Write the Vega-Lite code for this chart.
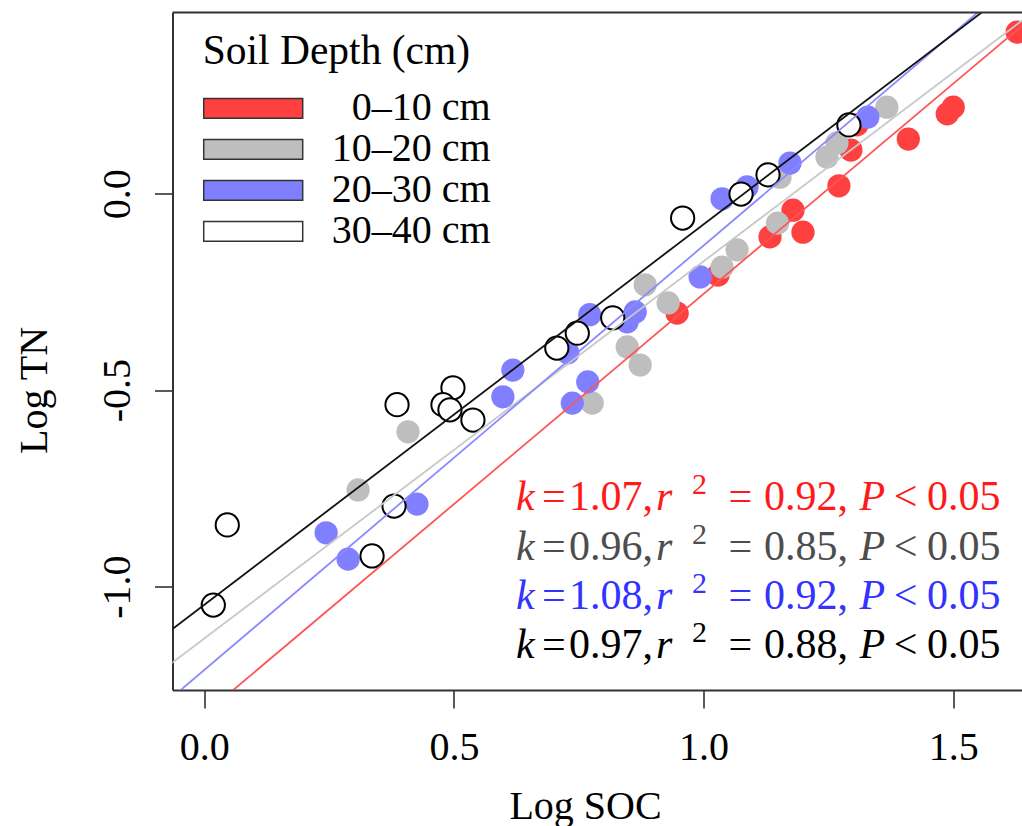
{
  "$schema": "https://vega.github.io/schema/vega-lite/v6.json",
  "width": 849.5,
  "height": 677.5,
  "autosize": {"type": "none"},
  "padding": {"left": 172.5, "top": 12.5, "right": 0, "bottom": 136},
  "background": "white",
  "config": {"view": {"stroke": null}, "font": "Liberation Serif"},
  "datasets": {
    "points": [
      {"depth": "0–10 cm", "soc": 1.628, "tn": 0.411},
      {"depth": "0–10 cm", "soc": 1.500, "tn": 0.220},
      {"depth": "0–10 cm", "soc": 1.488, "tn": 0.203},
      {"depth": "0–10 cm", "soc": 1.410, "tn": 0.139},
      {"depth": "0–10 cm", "soc": 1.307, "tn": 0.175},
      {"depth": "0–10 cm", "soc": 1.295, "tn": 0.111},
      {"depth": "0–10 cm", "soc": 1.271, "tn": 0.020},
      {"depth": "0–10 cm", "soc": 1.179, "tn": -0.042},
      {"depth": "0–10 cm", "soc": 1.199, "tn": -0.098},
      {"depth": "0–10 cm", "soc": 1.133, "tn": -0.110},
      {"depth": "0–10 cm", "soc": 1.029, "tn": -0.207},
      {"depth": "0–10 cm", "soc": 0.947, "tn": -0.304},
      {"depth": "10–20 cm", "soc": 1.367, "tn": 0.220},
      {"depth": "10–20 cm", "soc": 1.267, "tn": 0.129},
      {"depth": "10–20 cm", "soc": 1.247, "tn": 0.093},
      {"depth": "10–20 cm", "soc": 1.153, "tn": 0.042},
      {"depth": "10–20 cm", "soc": 1.148, "tn": -0.075},
      {"depth": "10–20 cm", "soc": 1.067, "tn": -0.143},
      {"depth": "10–20 cm", "soc": 1.037, "tn": -0.187},
      {"depth": "10–20 cm", "soc": 0.883, "tn": -0.232},
      {"depth": "10–20 cm", "soc": 0.929, "tn": -0.278},
      {"depth": "10–20 cm", "soc": 0.847, "tn": -0.390},
      {"depth": "10–20 cm", "soc": 0.873, "tn": -0.436},
      {"depth": "10–20 cm", "soc": 0.777, "tn": -0.533},
      {"depth": "10–20 cm", "soc": 0.408, "tn": -0.606},
      {"depth": "10–20 cm", "soc": 0.308, "tn": -0.754},
      {"depth": "20–30 cm", "soc": 1.329, "tn": 0.195},
      {"depth": "20–30 cm", "soc": 1.173, "tn": 0.078},
      {"depth": "20–30 cm", "soc": 1.087, "tn": 0.017},
      {"depth": "20–30 cm", "soc": 1.037, "tn": -0.013},
      {"depth": "20–30 cm", "soc": 0.993, "tn": -0.212},
      {"depth": "20–30 cm", "soc": 0.863, "tn": -0.301},
      {"depth": "20–30 cm", "soc": 0.847, "tn": -0.326},
      {"depth": "20–30 cm", "soc": 0.772, "tn": -0.308},
      {"depth": "20–30 cm", "soc": 0.728, "tn": -0.405},
      {"depth": "20–30 cm", "soc": 0.768, "tn": -0.479},
      {"depth": "20–30 cm", "soc": 0.737, "tn": -0.533},
      {"depth": "20–30 cm", "soc": 0.618, "tn": -0.449},
      {"depth": "20–30 cm", "soc": 0.598, "tn": -0.517},
      {"depth": "20–30 cm", "soc": 0.426, "tn": -0.790},
      {"depth": "20–30 cm", "soc": 0.244, "tn": -0.863},
      {"depth": "20–30 cm", "soc": 0.288, "tn": -0.930},
      {"depth": "30–40 cm", "soc": 1.291, "tn": 0.175},
      {"depth": "30–40 cm", "soc": 1.129, "tn": 0.048},
      {"depth": "30–40 cm", "soc": 1.075, "tn": -0.001},
      {"depth": "30–40 cm", "soc": 0.958, "tn": -0.062},
      {"depth": "30–40 cm", "soc": 0.818, "tn": -0.316},
      {"depth": "30–40 cm", "soc": 0.747, "tn": -0.355},
      {"depth": "30–40 cm", "soc": 0.706, "tn": -0.393},
      {"depth": "30–40 cm", "soc": 0.538, "tn": -0.576},
      {"depth": "30–40 cm", "soc": 0.498, "tn": -0.494},
      {"depth": "30–40 cm", "soc": 0.478, "tn": -0.537},
      {"depth": "30–40 cm", "soc": 0.492, "tn": -0.550},
      {"depth": "30–40 cm", "soc": 0.386, "tn": -0.537},
      {"depth": "30–40 cm", "soc": 0.380, "tn": -0.795},
      {"depth": "30–40 cm", "soc": 0.336, "tn": -0.922},
      {"depth": "30–40 cm", "soc": 0.046, "tn": -0.843},
      {"depth": "30–40 cm", "soc": 0.018, "tn": -1.047}
    ],
    "fits": [
      {"depth": "0–10 cm", "soc": -0.2, "tn": -1.539},
      {"depth": "0–10 cm", "soc": 1.8, "tn": 0.601},
      {"depth": "10–20 cm", "soc": -0.2, "tn": -1.324},
      {"depth": "10–20 cm", "soc": 1.8, "tn": 0.596},
      {"depth": "20–30 cm", "soc": -0.2, "tn": -1.428},
      {"depth": "20–30 cm", "soc": 1.8, "tn": 0.732},
      {"depth": "30–40 cm", "soc": -0.2, "tn": -1.2396},
      {"depth": "30–40 cm", "soc": 1.8, "tn": 0.6964}
    ],
    "eqs": [
      {"depth": "0–10 cm", "ex": 0.6243, "ey": -0.805, "kv": "1.07,", "r2v": "0.92,"},
      {"depth": "10–20 cm", "ex": 0.6243, "ey": -0.932, "kv": "0.96,", "r2v": "0.85,"},
      {"depth": "20–30 cm", "ex": 0.6243, "ey": -1.057, "kv": "1.08,", "r2v": "0.92,"},
      {"depth": "30–40 cm", "ex": 0.6243, "ey": -1.181, "kv": "0.97,", "r2v": "0.88,"}
    ]
  },
  "layer": [
    {
      "data": {"name": "points"},
      "mark": {"type": "point", "shape": "circle", "filled": true, "size": 540, "opacity": 1, "strokeWidth": 2},
      "encoding": {
        "x": {
          "field": "soc", "type": "quantitative",
          "scale": {"domain": [-0.0637, 1.6377], "nice": false, "zero": false},
          "axis": {
            "orient": "bottom", "values": [0, 0.5, 1, 1.5], "format": ".1f", "grid": false,
            "domainColor": "#333", "domainWidth": 2, "ticks": true, "tickColor": "#333", "tickWidth": 1.6, "tickSize": 18,
            "labelFont": "Liberation Serif", "labelFontSize": 40, "labelColor": "black", "labelPadding": 19,
            "labelFlush": false, "labelOverlap": false,
            "title": "Log SOC", "titleFont": "Liberation Serif", "titleFontSize": 40, "titleFontWeight": "normal",
            "titleColor": "black", "titleX": 412.5, "titleY": 128, "titleAlign": "center", "titleBaseline": "alphabetic"
          }
        },
        "y": {
          "field": "tn", "type": "quantitative",
          "scale": {"domain": [-1.263, 0.461], "nice": false, "zero": false},
          "axis": {
            "orient": "left", "values": [-1, -0.5, 0], "grid": false,
            "labelExpr": "(datum.value < 0 ? '-' : '') + format(abs(datum.value), '.1f')",
            "domainColor": "#333", "domainWidth": 2, "ticks": true, "tickColor": "#333", "tickWidth": 1.6, "tickSize": 18,
            "labelFont": "Liberation Serif", "labelFontSize": 40, "labelColor": "black", "labelPadding": 25.5,
            "labelAngle": -90, "labelAlign": "center", "labelBaseline": "alphabetic",
            "labelFlush": false, "labelOverlap": false,
            "title": "Log TN", "titleFont": "Liberation Serif", "titleFontSize": 40, "titleFontWeight": "normal",
            "titleColor": "black", "titleAngle": -90, "titleX": -126.5, "titleY": 377.5, "titleAlign": "center", "titleBaseline": "alphabetic"
          }
        },
        "fill": {
          "field": "depth", "type": "nominal",
          "scale": {"domain": ["0–10 cm", "10–20 cm", "20–30 cm", "30–40 cm"], "range": ["#ff4040", "#bebebe", "#7f7fff", "#ffffff"]},
          "legend": {
            "orient": "none", "legendX": 30.2, "legendY": 18, "direction": "vertical",
            "title": "Soil Depth (cm)", "titleFont": "Liberation Serif", "titleFontSize": 41.5, "titleFontWeight": "normal",
            "titleColor": "black", "titlePadding": 18.5, "titleLimit": 0,
            "labelFont": "Liberation Serif", "labelFontSize": 40, "labelColor": "black", "labelOffset": 187, "labelLimit": 0,
            "labelAlign": "right",
            "symbolType": "M-1,-0.2H1V0.2H-1Z", "symbolSize": 9801, "symbolStrokeColor": "#333", "symbolStrokeWidth": 1.5,
            "symbolOpacity": 1, "rowPadding": 0, "clipHeight": 35.8, "padding": 0
          }
        },
        "stroke": {
          "field": "depth", "type": "nominal",
          "scale": {"domain": ["0–10 cm", "10–20 cm", "20–30 cm", "30–40 cm"], "range": ["transparent", "transparent", "transparent", "#000000"]},
          "legend": null
        }
      }
    },
    {
      "data": {"name": "fits"},
      "mark": {"type": "line", "strokeWidth": 1.8, "clip": true},
      "encoding": {
        "x": {"field": "soc", "type": "quantitative"},
        "y": {"field": "tn", "type": "quantitative"},
        "color": {
          "field": "depth", "type": "nominal",
          "scale": {"domain": ["0–10 cm", "10–20 cm", "20–30 cm", "30–40 cm"], "range": ["#ff5555", "#c8c8c8", "#8a8aff", "#111111"]},
          "legend": null
        },
        "detail": {"field": "depth"}
      }
    },
    {
      "data": {"values": [{"edge": "top"}]},
      "mark": {"type": "rule", "color": "#333", "strokeWidth": 2},
      "encoding": {"y": {"datum": 0.461, "type": "quantitative"}}
    },
    {"data": {"name": "eqs"}, "mark": {"type": "text", "font": "Liberation Serif", "fontSize": 42, "fontStyle": "italic", "align": "left", "baseline": "alphabetic", "dx": 0}, "encoding": {"x": {"field": "ex", "type": "quantitative"}, "y": {"field": "ey", "type": "quantitative"}, "fill": {"field": "depth", "type": "nominal", "scale": {"domain": ["0–10 cm", "10–20 cm", "20–30 cm", "30–40 cm"], "range": ["#ff1a1a", "#4d4d4d", "#3333ff", "#000000"]}, "legend": null}, "text": {"value": "k"}}},
    {"data": {"name": "eqs"}, "mark": {"type": "text", "font": "Liberation Serif", "fontSize": 42, "align": "left", "baseline": "alphabetic", "dx": 26}, "encoding": {"x": {"field": "ex", "type": "quantitative"}, "y": {"field": "ey", "type": "quantitative"}, "fill": {"field": "depth", "type": "nominal", "scale": {"domain": ["0–10 cm", "10–20 cm", "20–30 cm", "30–40 cm"], "range": ["#ff1a1a", "#4d4d4d", "#3333ff", "#000000"]}, "legend": null}, "text": {"value": "="}}},
    {"data": {"name": "eqs"}, "mark": {"type": "text", "font": "Liberation Serif", "fontSize": 42, "align": "left", "baseline": "alphabetic", "dx": 53}, "encoding": {"x": {"field": "ex", "type": "quantitative"}, "y": {"field": "ey", "type": "quantitative"}, "fill": {"field": "depth", "type": "nominal", "scale": {"domain": ["0–10 cm", "10–20 cm", "20–30 cm", "30–40 cm"], "range": ["#ff1a1a", "#4d4d4d", "#3333ff", "#000000"]}, "legend": null}, "text": {"field": "kv"}}},
    {"data": {"name": "eqs"}, "mark": {"type": "text", "font": "Liberation Serif", "fontSize": 42, "fontStyle": "italic", "align": "left", "baseline": "alphabetic", "dx": 140}, "encoding": {"x": {"field": "ex", "type": "quantitative"}, "y": {"field": "ey", "type": "quantitative"}, "fill": {"field": "depth", "type": "nominal", "scale": {"domain": ["0–10 cm", "10–20 cm", "20–30 cm", "30–40 cm"], "range": ["#ff1a1a", "#4d4d4d", "#3333ff", "#000000"]}, "legend": null}, "text": {"value": "r"}}},
    {"data": {"name": "eqs"}, "mark": {"type": "text", "font": "Liberation Serif", "fontSize": 30, "align": "left", "baseline": "alphabetic", "dx": 176, "dy": -16}, "encoding": {"x": {"field": "ex", "type": "quantitative"}, "y": {"field": "ey", "type": "quantitative"}, "fill": {"field": "depth", "type": "nominal", "scale": {"domain": ["0–10 cm", "10–20 cm", "20–30 cm", "30–40 cm"], "range": ["#ff1a1a", "#4d4d4d", "#3333ff", "#000000"]}, "legend": null}, "text": {"value": "2"}}},
    {"data": {"name": "eqs"}, "mark": {"type": "text", "font": "Liberation Serif", "fontSize": 42, "align": "left", "baseline": "alphabetic", "dx": 212.6}, "encoding": {"x": {"field": "ex", "type": "quantitative"}, "y": {"field": "ey", "type": "quantitative"}, "fill": {"field": "depth", "type": "nominal", "scale": {"domain": ["0–10 cm", "10–20 cm", "20–30 cm", "30–40 cm"], "range": ["#ff1a1a", "#4d4d4d", "#3333ff", "#000000"]}, "legend": null}, "text": {"value": "="}}},
    {"data": {"name": "eqs"}, "mark": {"type": "text", "font": "Liberation Serif", "fontSize": 42, "align": "left", "baseline": "alphabetic", "dx": 248}, "encoding": {"x": {"field": "ex", "type": "quantitative"}, "y": {"field": "ey", "type": "quantitative"}, "fill": {"field": "depth", "type": "nominal", "scale": {"domain": ["0–10 cm", "10–20 cm", "20–30 cm", "30–40 cm"], "range": ["#ff1a1a", "#4d4d4d", "#3333ff", "#000000"]}, "legend": null}, "text": {"field": "r2v"}}},
    {"data": {"name": "eqs"}, "mark": {"type": "text", "font": "Liberation Serif", "fontSize": 42, "fontStyle": "italic", "align": "left", "baseline": "alphabetic", "dx": 343.5}, "encoding": {"x": {"field": "ex", "type": "quantitative"}, "y": {"field": "ey", "type": "quantitative"}, "fill": {"field": "depth", "type": "nominal", "scale": {"domain": ["0–10 cm", "10–20 cm", "20–30 cm", "30–40 cm"], "range": ["#ff1a1a", "#4d4d4d", "#3333ff", "#000000"]}, "legend": null}, "text": {"value": "P"}}},
    {"data": {"name": "eqs"}, "mark": {"type": "text", "font": "Liberation Serif", "fontSize": 42, "align": "left", "baseline": "alphabetic", "dx": 377.7}, "encoding": {"x": {"field": "ex", "type": "quantitative"}, "y": {"field": "ey", "type": "quantitative"}, "fill": {"field": "depth", "type": "nominal", "scale": {"domain": ["0–10 cm", "10–20 cm", "20–30 cm", "30–40 cm"], "range": ["#ff1a1a", "#4d4d4d", "#3333ff", "#000000"]}, "legend": null}, "text": {"value": "<"}}},
    {"data": {"name": "eqs"}, "mark": {"type": "text", "font": "Liberation Serif", "fontSize": 42, "align": "left", "baseline": "alphabetic", "dx": 411}, "encoding": {"x": {"field": "ex", "type": "quantitative"}, "y": {"field": "ey", "type": "quantitative"}, "fill": {"field": "depth", "type": "nominal", "scale": {"domain": ["0–10 cm", "10–20 cm", "20–30 cm", "30–40 cm"], "range": ["#ff1a1a", "#4d4d4d", "#3333ff", "#000000"]}, "legend": null}, "text": {"value": "0.05"}}}
  ],
  "resolve": {"scale": {"fill": "independent"}}
}
